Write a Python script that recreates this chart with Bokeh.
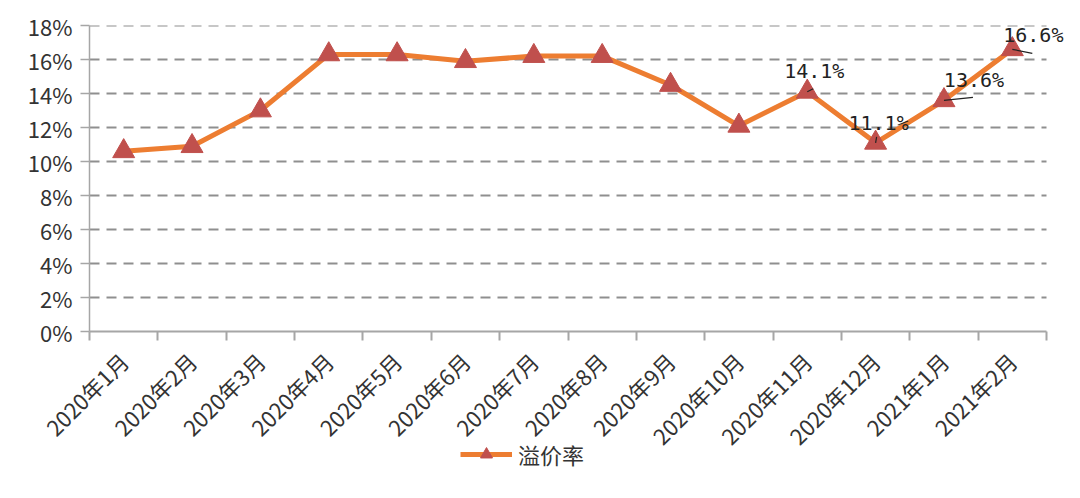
import numpy as np
from bokeh.plotting import figure
from bokeh.layouts import column
from bokeh.models import (Range1d, FixedTicker, PrintfTickFormatter, Legend, LegendItem,
                          ColumnDataSource, LabelSet)
from bokeh.core.properties import value
from bokeh.embed import file_html
from bokeh.resources import INLINE

# ---- data ----
months = ["2020年1月", "2020年2月", "2020年3月", "2020年4月", "2020年5月", "2020年6月",
          "2020年7月", "2020年8月", "2020年9月", "2020年10月", "2020年11月", "2020年12月",
          "2021年1月", "2021年2月"]
premium = [10.6, 10.9, 13.0, 16.3, 16.3, 15.9, 16.2, 16.2, 14.5, 12.1, 14.1, 11.1, 13.6, 16.6]
series_name = "溢价率"
labeled_idx = [10, 11, 12, 13]
y_ticks = [0, 2, 4, 6, 8, 10, 12, 14, 16, 18]

# ---- style / layout ----
MBL, MBR, MBT, MBB = 89, 6, 25, 0
PLOT_W, FRAME_H = 957, 306     # width of the category area, frame height
EXTRA_R = 22                   # room on the right for the last label
LINE_COLOR = "#ED7D31"
MARKER_COLOR = "#C0504D"
AXIS_COLOR = "#a6a6a6"
GRID_COLOR = "#8f8f8f"
TEXT_COLOR = "#333333"
AX_FONT = "'Liberation Sans Narrow', 'Noto Sans CJK SC', sans-serif"
LBL_FONT = "DejaVu Sans Mono"
# label offsets (screen px, y up) and leader line ends (screen px, y down)
label_dx = [7, 3, 30, 21]
label_dy = [21, 20, 20, 14]
leader_dx = [6, 1, 29, 20]
leader_dy = [-3, -6, -3, 4]
LEG_H = 40
LEG_OVERLAP = 30
legend_pos = (371, 5)

n = len(months)
xs = np.arange(n) + 0.5
y_max = y_ticks[-1]
px_per_x = PLOT_W / n
px_per_y = FRAME_H / y_max
x_end = n + EXTRA_R / px_per_x
TOTAL_W = MBL + PLOT_W + EXTRA_R + MBR

p = figure(frame_width=PLOT_W + EXTRA_R, frame_height=FRAME_H, output_backend="svg",
           toolbar_location=None,
           x_range=Range1d(0, x_end), y_range=Range1d(0, y_max),
           min_border_left=MBL, min_border_right=MBR, min_border_top=MBT,
           min_border_bottom=MBB)
p.outline_line_color = None
p.background_fill_color = "white"
p.border_fill_color = "white"

# grid (drawn only over the category area)
p.xgrid.grid_line_color = None
p.ygrid.grid_line_color = None
gy = y_ticks[1:]
p.segment(x0=[0] * len(gy), x1=[n] * len(gy), y0=gy, y1=gy,
          line_color=GRID_COLOR, line_width=2, line_dash="10 7", level="underlay")

# y axis
ya = p.yaxis[0]
ya.ticker = FixedTicker(ticks=y_ticks)
ya.formatter = PrintfTickFormatter(format="%d%%")
ya.axis_line_color = AXIS_COLOR
ya.axis_line_width = 1.5
ya.major_tick_line_color = AXIS_COLOR
ya.major_tick_line_width = 1.5
ya.major_tick_out = 9
ya.major_tick_in = 0
ya.minor_tick_line_color = None
ya.major_label_text_font = AX_FONT
ya.major_label_text_font_size = "22px"
ya.major_label_text_color = TEXT_COLOR
ya.major_label_standoff = 8

# x axis
xa = p.xaxis[0]
xa.bounds = (0, n)
xa.ticker = FixedTicker(ticks=list(xs), minor_ticks=list(range(n + 1)))
xa.major_label_overrides = {float(x): m for x, m in zip(xs, months)}
xa.axis_line_color = AXIS_COLOR
xa.axis_line_width = 2
xa.major_tick_line_color = None
xa.major_tick_out = 0
xa.major_tick_in = 0
xa.minor_tick_line_color = AXIS_COLOR
xa.minor_tick_line_width = 2
xa.minor_tick_out = 9
xa.minor_tick_in = 0
xa.major_label_orientation = np.pi / 4
xa.major_label_text_font = AX_FONT
xa.major_label_text_font_size = "22px"
xa.major_label_text_color = TEXT_COLOR
xa.major_label_standoff = 16

# series
src = ColumnDataSource(dict(x=xs, y=premium))
ln = p.line("x", "y", source=src, line_color=LINE_COLOR, line_width=5)
mk = p.scatter("x", "y", source=src, marker="triangle", size=22,
               fill_color=MARKER_COLOR, line_color=MARKER_COLOR)

# data labels with leader lines
lx = [xs[i] for i in labeled_idx]
ly = [premium[i] for i in labeled_idx]
ltxt = ["%.1f%%" % premium[i] for i in labeled_idx]
p.segment(x0=lx, y0=ly,
          x1=[x + dx / px_per_x for x, dx in zip(lx, leader_dx)],
          y1=[y - dy / px_per_y for y, dy in zip(ly, leader_dy)],
          line_color="#222222", line_width=1.2)
lsrc = ColumnDataSource(dict(x=lx, y=ly, t=ltxt, dx=label_dx, dy=label_dy))
labels = LabelSet(x="x", y="y", text="t", source=lsrc, x_offset="dx", y_offset="dy",
                  text_align="center", text_baseline="middle",
                  text_font=value(LBL_FONT), text_font_size="20px", text_color="#222222")
p.add_layout(labels)

# legend strip (separate small figure, overlapping the main one's bottom margin)
pl = figure(width=TOTAL_W, height=LEG_H, output_backend="svg", toolbar_location=None,
            x_axis_type=None, y_axis_type=None, x_range=Range1d(0, 1), y_range=Range1d(0, 1),
            min_border=0, margin=(-LEG_OVERLAP, 0, 0, 0))
pl.outline_line_color = None
pl.background_fill_alpha = 0
pl.border_fill_alpha = 0
pl.xgrid.visible = False
pl.ygrid.visible = False
# legend proxies: one point kept outside the visible range
proxy = ColumnDataSource(dict(x=[-10], y=[-10]))
lln = pl.line("x", "y", source=proxy, line_color=LINE_COLOR, line_width=5)
lmk = pl.scatter("x", "y", source=proxy, marker="triangle", size=22,
                 fill_color=MARKER_COLOR, line_color=MARKER_COLOR)
legend = Legend(items=[LegendItem(label=series_name, renderers=[lln, lmk])],
                orientation="horizontal", location=legend_pos,
                label_text_font="Noto Sans CJK SC", label_text_font_size="22px",
                label_text_color=TEXT_COLOR, glyph_width=52, glyph_height=30,
                label_standoff=6, padding=0, margin=0,
                border_line_color=None, background_fill_alpha=0)
pl.add_layout(legend, "center")

layout = column(p, pl, spacing=0)
open("out.html", "w").write(file_html(layout, INLINE))
